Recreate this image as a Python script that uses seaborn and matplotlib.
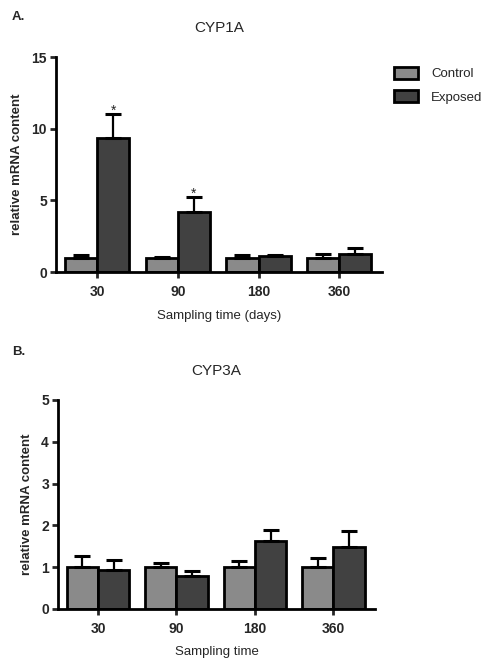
import numpy as np
import pandas as pd
import matplotlib
matplotlib.use("Agg")
import matplotlib.pyplot as plt
import seaborn as sns

sns.set_style("white")
plt.rcParams["font.family"] = ["Liberation Sans", "DejaVu Sans"]

# Sampling times and groups
times = ["30", "90", "180", "360"]
groups = ["Control", "Exposed"]

# CYP1A: mean relative mRNA content and upper error (SEM)
cyp1a_control = [1.0, 1.0, 1.0, 1.0]
cyp1a_control_err = [0.22, 0.08, 0.17, 0.24]
cyp1a_exposed = [9.35, 4.2, 1.12, 1.24]
cyp1a_exposed_err = [1.65, 1.05, 0.07, 0.44]
cyp1a_signif = [True, True, False, False]

# CYP3A: mean relative mRNA content and upper error (SEM)
cyp3a_control = [1.0, 1.0, 1.0, 1.0]
cyp3a_control_err = [0.26, 0.1, 0.14, 0.23]
cyp3a_exposed = [0.94, 0.78, 1.62, 1.49]
cyp3a_exposed_err = [0.24, 0.12, 0.27, 0.37]

palette = {"Control": "#8a8a8a", "Exposed": "#414141"}


def panel(ax, ctrl, ctrl_err, expo, expo_err, ylim, yticks, title, xlabel, signif=None):
    df = pd.DataFrame({
        "time": times * 2,
        "group": [groups[0]] * len(times) + [groups[1]] * len(times),
        "value": list(ctrl) + list(expo),
    })
    sns.barplot(data=df, x="time", y="value", hue="group", order=times,
                hue_order=groups, palette=palette, errorbar=None,
                edgecolor="black", linewidth=2.0, width=0.8, ax=ax,
                legend=False, saturation=1)
    errs = [ctrl_err, expo_err]
    for cont, err in zip(ax.containers, errs):
        xs = [p.get_x() + p.get_width() / 2 for p in cont]
        ys = [p.get_height() for p in cont]
        ax.errorbar(xs, ys, yerr=[np.zeros(len(err)), err], fmt="none",
                    ecolor="black", elinewidth=1.6, capsize=6, capthick=2.2,
                    zorder=1)
    if signif is not None:
        cont = ax.containers[1]
        for p, e, s in zip(cont, expo_err, signif):
            if s:
                ax.text(p.get_x() + p.get_width() / 2, p.get_height() + e - 0.25,
                        "*", ha="center", va="bottom", fontsize=10)
    ax.set_ylim(*ylim)
    ax.set_yticks(yticks)
    ax.set_xlim(-0.51, 3.53)
    sns.despine(ax=ax)
    for s in ["left", "bottom"]:
        ax.spines[s].set_linewidth(2.0)
        ax.spines[s].set_color("black")
    ax.tick_params(axis="y", direction="out", length=4.5, width=2, left=True,
                   labelsize=10, pad=2)
    ax.tick_params(axis="x", direction="out", length=4.5, width=2, bottom=True,
                   labelsize=10, pad=5)
    for lab in ax.get_xticklabels() + ax.get_yticklabels():
        lab.set_fontweight("bold")
    ax.set_ylabel("relative mRNA content", fontsize=9.5, fontweight="bold", labelpad=6)
    ax.set_xlabel(xlabel, fontsize=9.5, labelpad=8)
    ax.set_title(title, fontsize=11, pad=18)


fig = plt.figure(figsize=(4.85, 6.58), dpi=100)
ax1 = fig.add_axes([0.1155, 0.5866, 0.672, 0.3267])
ax2 = fig.add_axes([0.1196, 0.0745, 0.6536, 0.3176])

panel(ax1, cyp1a_control, cyp1a_control_err, cyp1a_exposed, cyp1a_exposed_err,
      (0, 15), [0, 5, 10, 15], "CYP1A", "Sampling time (days)", signif=cyp1a_signif)
panel(ax2, cyp3a_control, cyp3a_control_err, cyp3a_exposed, cyp3a_exposed_err,
      (0, 5), [0, 1, 2, 3, 4, 5], "CYP3A", "Sampling time")
ax2.xaxis.labelpad = 7

fig.text(12 / 485, 1 - 17 / 658, "A.", fontsize=9.5, fontweight="bold", va="center")
fig.text(12 / 485, 1 - 352 / 658, "B.", fontsize=9.5, fontweight="bold", va="center")

handles = [plt.Rectangle((0, 0), 1, 1, facecolor=palette[g], edgecolor="black",
                         linewidth=2.0) for g in groups]
fig.legend(handles, groups, loc="upper left", bbox_to_anchor=(390 / 485, 1 - 63 / 658),
           frameon=False, fontsize=9.5, handlelength=1.8, handleheight=1.0,
           handletextpad=1.0, labelspacing=0.75, borderaxespad=0, borderpad=0.3)

fig.savefig("out.png", dpi=100)
